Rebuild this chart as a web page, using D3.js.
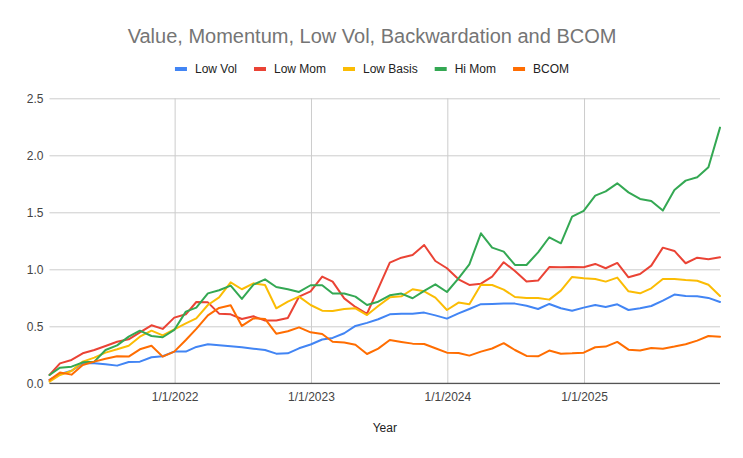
<!DOCTYPE html>
<html>
<head>
<meta charset="utf-8">
<script src="https://cdn.jsdelivr.net/npm/d3@7/dist/d3.min.js"></script>
<style>
  html, body { margin: 0; padding: 0; background: #fff; }
  svg { display: block; font-family: "Liberation Sans", Arial, sans-serif; }
</style>
</head>
<body>
<svg id="chart" width="743" height="458"></svg>
<script>
const months = [
  "2021-01","2021-02","2021-03","2021-04","2021-05","2021-06","2021-07","2021-08","2021-09","2021-10","2021-11","2021-12",
  "2022-01","2022-02","2022-03","2022-04","2022-05","2022-06","2022-07","2022-08","2022-09","2022-10","2022-11","2022-12",
  "2023-01","2023-02","2023-03","2023-04","2023-05","2023-06","2023-07","2023-08","2023-09","2023-10","2023-11","2023-12",
  "2024-01","2024-02","2024-03","2024-04","2024-05","2024-06","2024-07","2024-08","2024-09","2024-10","2024-11","2024-12",
  "2025-01","2025-02","2025-03","2025-04","2025-05","2025-06","2025-07","2025-08","2025-09","2025-10","2025-11","2025-12"
];
const lowVol = [0.03,0.08,0.11,0.175,0.175,0.167,0.155,0.187,0.19,0.228,0.237,0.278,0.278,0.319,0.342,0.333,0.325,0.316,0.304,0.292,0.26,0.263,0.307,0.34,0.384,0.398,0.439,0.503,0.53,0.562,0.605,0.611,0.611,0.62,0.596,0.567,0.614,0.652,0.694,0.696,0.70,0.699,0.681,0.652,0.696,0.658,0.637,0.664,0.687,0.67,0.693,0.643,0.658,0.678,0.725,0.778,0.766,0.763,0.749,0.713];
const lowMom = [0.073,0.175,0.205,0.263,0.292,0.327,0.365,0.386,0.447,0.509,0.477,0.576,0.605,0.713,0.71,0.611,0.605,0.564,0.588,0.55,0.55,0.573,0.76,0.807,0.936,0.892,0.745,0.67,0.61,0.83,1.058,1.102,1.126,1.213,1.073,1.009,0.912,0.863,0.874,0.936,1.062,0.985,0.892,0.901,1.02,1.018,1.02,1.018,1.047,1.009,1.056,0.93,0.959,1.032,1.19,1.161,1.053,1.102,1.088,1.105];
const lowBasis = [0.015,0.073,0.108,0.19,0.225,0.269,0.298,0.33,0.409,0.462,0.421,0.474,0.526,0.57,0.687,0.754,0.886,0.825,0.877,0.862,0.658,0.716,0.76,0.687,0.637,0.635,0.652,0.658,0.599,0.678,0.754,0.763,0.825,0.807,0.751,0.643,0.708,0.693,0.864,0.862,0.822,0.757,0.749,0.749,0.734,0.813,0.933,0.921,0.915,0.892,0.927,0.807,0.789,0.833,0.915,0.915,0.906,0.9,0.865,0.766];
const hiMom = [0.073,0.137,0.146,0.184,0.19,0.292,0.333,0.409,0.462,0.415,0.404,0.468,0.629,0.664,0.789,0.816,0.857,0.74,0.865,0.912,0.845,0.825,0.801,0.86,0.86,0.787,0.787,0.76,0.687,0.716,0.772,0.787,0.746,0.81,0.868,0.801,0.921,1.044,1.316,1.19,1.155,1.038,1.038,1.149,1.281,1.228,1.462,1.512,1.646,1.684,1.754,1.675,1.617,1.599,1.515,1.696,1.778,1.807,1.895,2.243];
const bcom = [0.029,0.094,0.076,0.161,0.19,0.216,0.237,0.234,0.298,0.33,0.234,0.278,0.38,0.477,0.596,0.661,0.684,0.503,0.57,0.565,0.435,0.456,0.491,0.447,0.433,0.365,0.357,0.339,0.257,0.304,0.38,0.363,0.348,0.345,0.307,0.269,0.266,0.243,0.278,0.305,0.352,0.292,0.24,0.237,0.287,0.26,0.263,0.269,0.316,0.322,0.363,0.295,0.287,0.31,0.304,0.322,0.342,0.374,0.415,0.409];

const seriesNames = ["Low Vol","Low Mom","Low Basis","Hi Mom","BCOM"];
const seriesColors = ["#4285F4","#EA4335","#FBBC04","#34A853","#FF6D01"];
const seriesValues = [lowVol, lowMom, lowBasis, hiMom, bcom];
const xTickLabels = ["1/1/2022","1/1/2023","1/1/2024","1/1/2025"];
const yTicks = [0, 0.5, 1, 1.5, 2, 2.5];
const titleText = "Value, Momentum, Low Vol, Backwardation and BCOM";
const xTitle = "Year";

const parseMonth = d3.timeParse("%Y-%m");
const dates = months.map(m => d3.timeDay.offset(d3.timeMonth.offset(parseMonth(m), 1), -1));
const parseTick = d3.timeParse("%m/%d/%Y");
const tickDates = xTickLabels.map(t => parseTick(t));

const W = 743, H = 458;
const pLeft = 49.5, pRight = 720, pTop = 98.3, pBottom = 383.3;

const svg = d3.select("#chart");
svg.append("rect").attr("width", W).attr("height", H).attr("fill", "#fff");

const x = d3.scaleTime().domain(d3.extent(dates)).range([pLeft, pRight]);
const y = d3.scaleLinear().domain([0, 2.5]).range([pBottom, pTop]);

// horizontal gridlines + y labels
const yAxis = d3.axisLeft(y).tickValues(yTicks).tickFormat(d3.format(".1f"))
  .tickSize(-(pRight - pLeft)).tickPadding(6);
const gy = svg.append("g").attr("transform", `translate(${pLeft},0)`).call(yAxis);
gy.select(".domain").remove();
gy.selectAll(".tick line").attr("stroke", "#cccccc").attr("stroke-width", 1);
gy.selectAll(".tick text").attr("fill", "#444").attr("font-size", 12)
  .attr("font-family", "'Liberation Sans', Arial, sans-serif");

// vertical gridlines + x labels
const xAxis = d3.axisBottom(x).tickValues(tickDates)
  .tickFormat((d, i) => xTickLabels[i]).tickSize(-(pBottom - pTop)).tickPadding(9);
const gx = svg.append("g").attr("transform", `translate(0,${pBottom})`).call(xAxis);
gx.select(".domain").remove();
gx.selectAll(".tick line").attr("stroke", "#cccccc").attr("stroke-width", 1);
gx.selectAll(".tick text").attr("fill", "#444").attr("font-size", 12)
  .attr("font-family", "'Liberation Sans', Arial, sans-serif");

// lines
const line = d3.line().x((d, i) => x(dates[i])).y(d => y(d));
seriesValues.forEach((vals, k) => {
  svg.append("path").datum(vals)
    .attr("d", line)
    .attr("fill", "none")
    .attr("stroke", seriesColors[k])
    .attr("stroke-width", 2)
    .attr("stroke-linejoin", "round")
    .attr("stroke-linecap", "round");
});

// baseline
svg.append("line").attr("x1", pLeft).attr("x2", pRight)
  .attr("y1", y(0)).attr("y2", y(0)).attr("stroke", "#333").attr("stroke-width", 1);

// title
svg.append("text").attr("x", 372).attr("y", 43).attr("text-anchor", "middle")
  .attr("font-size", 20).attr("fill", "#757575").text(titleText);

// x axis title
svg.append("text").attr("x", (pLeft + pRight) / 2).attr("y", 432).attr("text-anchor", "middle")
  .attr("font-size", 12).attr("fill", "#222").text(xTitle);

// legend
const lg = svg.append("g");
let cx = 0;
seriesNames.forEach((name, k) => {
  const g = lg.append("g").attr("transform", `translate(${cx},0)`);
  g.append("rect").attr("x", 0).attr("y", -2).attr("width", 12).attr("height", 4)
    .attr("fill", seriesColors[k]);
  const t = g.append("text").attr("x", 20).attr("y", 4.3).attr("font-size", 12)
    .attr("fill", "#222").text(name);
  const w = t.node().getComputedTextLength();
  cx += 20 + w + (k < seriesNames.length - 1 ? 17 : 0);
});
lg.attr("transform", `translate(${372 - cx / 2},69)`);
</script>
</body>
</html>
